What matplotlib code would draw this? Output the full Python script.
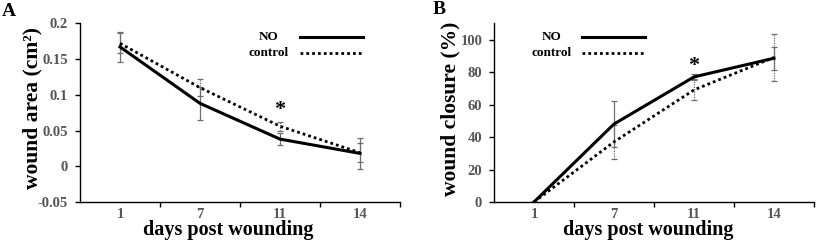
import matplotlib
matplotlib.use("Agg")
import matplotlib.pyplot as plt
import numpy as np

plt.rcParams['font.family'] = ['Liberation Serif', 'DejaVu Serif']
plt.rcParams['font.weight'] = 'bold'

days = ["1", "7", "11", "14"]

# Panel A: wound area (cm^2)
area_no = [0.167, 0.088, 0.038, 0.018]
area_no_err = [0.021, 0.023, 0.008, 0.022]
area_ctrl = [0.172, 0.110, 0.056, 0.019]
area_ctrl_err = [0.014, 0.012, 0.006, 0.013]

# Panel B: wound closure (%)
clos_no = [0, 48, 77, 88.5]
clos_no_err = [0, 14, 1.8, 7]
clos_ctrl = [0, 37, 69, 89]
clos_ctrl_err = [0, 10.5, 6.5, 14.5]

star_day = "11"
star_a = 0.079
star_b = 84

GRAY = '#6e6e6e'
TICKC = '#555555'

fig = plt.figure(figsize=(8.16, 2.4), dpi=100)
axA = fig.add_axes([80/816, 38/240, 320/816, (202-23.3)/240])
axB = fig.add_axes([494/816, 38/240, 320/816, (202-23.3)/240])

def style(ax, ylim, yticks, yticklabels, ylabel, xlab_x, ylab_x, ylab_y):
    x = np.arange(len(days)) + 0.5
    ax.set_xlim(0, len(days))
    ax.set_ylim(*ylim)
    ax.set_xticks(x)
    ax.set_xticklabels(days, fontsize=10.5, color=TICKC, fontweight='bold')
    ax.set_xticks(np.arange(1, len(days) + 1), minor=True)
    ax.tick_params(axis='x', which='major', length=0, pad=4)
    ax.tick_params(axis='x', which='minor', length=3.5, direction='out', width=1)
    ax.set_yticks(yticks)
    ax.set_yticklabels(yticklabels, fontsize=10.5, color=TICKC, fontweight='bold')
    ax.tick_params(axis='y', length=3.5, direction='out', width=1, pad=5)
    for s in ['top', 'right']:
        ax.spines[s].set_visible(False)
    for s in ['left', 'bottom']:
        ax.spines[s].set_linewidth(1)
    ax.set_xlabel("days post wounding", fontsize=14.5, fontweight='bold')
    ax.xaxis.set_label_coords(xlab_x, (202-220)/178.7)
    ax.set_ylabel(ylabel, fontsize=15.5, fontweight='bold')
    ax.yaxis.set_label_coords(ylab_x, ylab_y)
    ax.yaxis.label.set_verticalalignment('center')
    return x

def draw(ax, x, no, no_err, ctrl, ctrl_err):
    eb = ax.errorbar(x, ctrl, yerr=ctrl_err, fmt='none', ecolor=GRAY, elinewidth=0.9,
                     capsize=2.5, capthick=0.9, zorder=2)
    eb[2][0].set_linestyle((0, (1, 1)))
    ax.errorbar(x, no, yerr=no_err, fmt='none', ecolor=GRAY, elinewidth=0.9,
                capsize=2.5, capthick=0.9, zorder=2)
    ax.plot(x, ctrl, color='black', lw=2, linestyle=(0, (1, 1.1)), zorder=3)
    ax.plot(x, no, color='black', lw=2.2, linestyle='-', zorder=4)

def legend(ax, tx, lx0, lx1, y1, y2):
    ax.text(tx, y1, "NO", transform=ax.transAxes, ha='center', va='center', fontsize=9.5, fontweight='bold')
    ax.text(tx, y2, "control", transform=ax.transAxes, ha='center', va='center', fontsize=9.5, fontweight='bold')
    ax.plot([lx0, lx1], [y1, y1], transform=ax.transAxes, color='black', lw=2.2)
    ax.plot([lx0, lx1], [y2, y2], transform=ax.transAxes, color='black', lw=2, linestyle=(0, (1, 1.1)))

xa = style(axA, (-0.05, 0.2), [-0.05, 0, 0.05, 0.1, 0.15, 0.2],
           ['-0.05', '0', '0.05', '0.1', '0.15', '0.2'], "wound area (cm²)", 0.4625,
           (32-80)/320, (202-108)/178.7)
draw(axA, xa, area_no, area_no_err, area_ctrl, area_ctrl_err)
legend(axA, (269-80)/320, (300-80)/320, (363-80)/320, (202-37.3)/178.7, (202-53.3)/178.7)
axA.text(xa[days.index(star_day)], star_a, "*", ha='center', va='center', fontsize=16, fontweight='bold')

xb = style(axB, (0, 110), [0, 20, 40, 60, 80, 100],
           ['0', '20', '40', '60', '80', '100'], "wound closure (%)", 0.481,
           (450-494)/320, (202-108.5)/178.7)
draw(axB, xb, clos_no, clos_no_err, clos_ctrl, clos_ctrl_err)
legend(axB, (552-494)/320, (582-494)/320, (645-494)/320, (202-37.3)/178.7, (202-52.7)/178.7)
axB.text(xb[days.index(star_day)], star_b, "*", ha='center', va='center', fontsize=16, fontweight='bold')

fig.text(2/816, 1 - 12/240, "A", fontsize=14, fontweight='bold', va='center', ha='left')
fig.text(433/816, 1 - 10/240, "B", fontsize=14, fontweight='bold', va='center', ha='left')

fig.savefig("out.png", dpi=100)
